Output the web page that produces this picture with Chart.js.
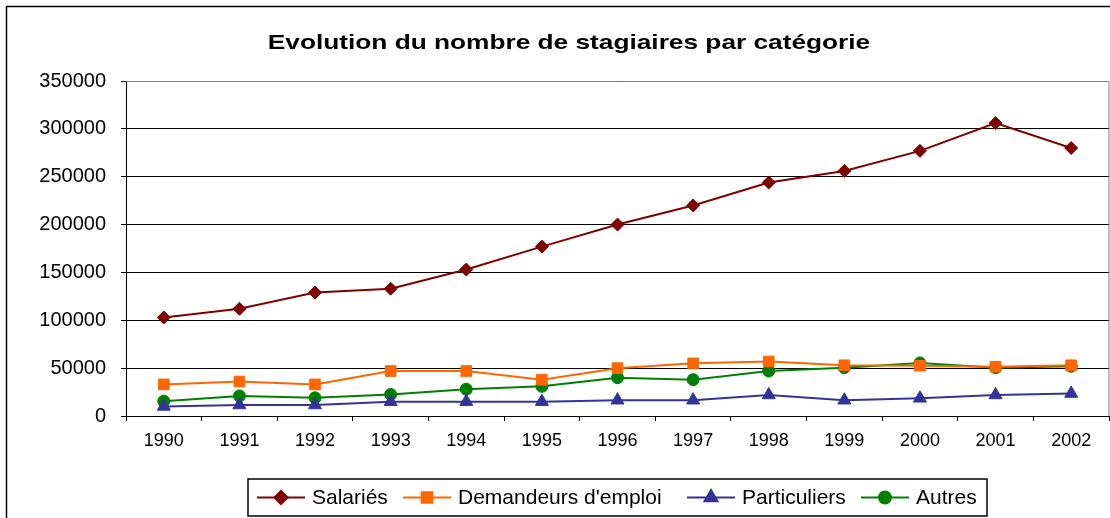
<!DOCTYPE html>
<html>
<head>
<meta charset="utf-8">
<title>Evolution du nombre de stagiaires par catégorie</title>
<script src="https://cdn.jsdelivr.net/npm/chart.js@4.4.1/dist/chart.umd.min.js"></script>
<style>
  html, body { margin: 0; padding: 0; background: #fff; }
  canvas { display: block; }
</style>
</head>
<body>
<canvas id="stagiairesChart" width="1110" height="518"></canvas>
<script>
// Data
let years = ['1990', '1991', '1992', '1993', '1994', '1995', '1996', '1997', '1998', '1999', '2000', '2001', '2002'];
let salaries = [103000, 112000, 129000, 133000, 153000, 177000, 200000, 220000, 244000, 256000, 277000, 306000, 280000];
let demandeurs = [33000, 36000, 33000, 47000, 47000, 38000, 50000, 55000, 57000, 53000, 52500, 51500, 53000];
let particuliers = [10000, 11500, 11500, 15000, 15000, 15000, 16500, 16500, 22000, 16500, 18500, 22000, 23500];
let autres = [15500, 21000, 19000, 22500, 28000, 31000, 40000, 38000, 47000, 50500, 55500, 50500, 52000];
let yTicks = [0, 50000, 100000, 150000, 200000, 250000, 300000, 350000];

let seriesNames = ['Salariés', "Demandeurs d'emploi", 'Particuliers', 'Autres'];
let seriesData = [salaries, demandeurs, particuliers, autres];
let seriesColors = ['#800000', '#FF6600', '#333399', '#008000'];
let markerStyles = ['rectRot', 'rect', 'triangle', 'circle'];
let markerSizes = [6.5, 7.5, 7.5, 6];

let chartTitle = 'Evolution du nombre de stagiaires par catégorie';
let fontFamily = '"Liberation Sans", Arial, Helvetica, sans-serif';

Chart.defaults.font.family = fontFamily;
Chart.defaults.color = '#000';

let stagiairesChart = document.querySelector('#stagiairesChart');

// Datasets
let datasets = [];
for (let i = 0; i < seriesNames.length; i++) {
  datasets.push({
    label: seriesNames[i],
    data: seriesData[i],
    borderColor: seriesColors[i],
    backgroundColor: seriesColors[i],
    borderWidth: 2,
    pointStyle: markerStyles[i],
    pointRadius: markerSizes[i],
    pointHoverRadius: markerSizes[i],
    pointBackgroundColor: seriesColors[i],
    pointBorderColor: seriesColors[i],
    pointBorderWidth: 1,
    tension: 0
  });
}

// Frame, title and boxed legend (Excel look)
let excelFrame = {
  id: 'excelFrame',
  beforeDraw(chart) {
    let ctx = chart.ctx;
    ctx.save();
    ctx.fillStyle = '#fff';
    ctx.fillRect(0, 0, chart.width, chart.height);
    ctx.restore();
  },
  afterDraw(chart) {
    let ctx = chart.ctx;
    let area = chart.chartArea;
    ctx.save();

    // plot area border (top / right)
    ctx.strokeStyle = '#808080';
    ctx.lineWidth = 1;
    ctx.beginPath();
    ctx.moveTo(area.left, Math.round(area.top) + 0.5);
    ctx.lineTo(area.right, Math.round(area.top) + 0.5);
    ctx.lineTo(area.right, area.bottom);
    ctx.stroke();

    // outer chart border
    ctx.strokeStyle = '#000';
    ctx.lineWidth = 1.5;
    ctx.strokeRect(6.5, 6.5, 1130, 530);

    // title, a bit wide like the original
    ctx.font = 'bold 21px ' + fontFamily;
    ctx.fillStyle = '#000';
    ctx.textAlign = 'center';
    ctx.textBaseline = 'alphabetic';
    ctx.translate(569, 49);
    ctx.scale(1.25, 1);
    ctx.fillText(chartTitle, 0, 0);
    ctx.setTransform(1, 0, 0, 1, 0, 0);

    // legend box
    ctx.strokeStyle = '#000';
    ctx.lineWidth = 1.5;
    ctx.strokeRect(248, 479, 739, 37);

    let lineStarts = [257, 403, 687, 861];
    let midY = 497.5;
    ctx.font = '21px ' + fontFamily;
    ctx.textAlign = 'left';
    ctx.textBaseline = 'middle';
    for (let i = 0; i < seriesNames.length; i++) {
      let x0 = lineStarts[i];
      ctx.strokeStyle = seriesColors[i];
      ctx.fillStyle = seriesColors[i];
      ctx.lineWidth = 2;
      ctx.beginPath();
      ctx.moveTo(x0, midY);
      ctx.lineTo(x0 + 48, midY);
      ctx.stroke();
      Chart.helpers.drawPoint(ctx, {
        pointStyle: markerStyles[i],
        radius: markerSizes[i],
        borderWidth: 1,
        rotation: 0
      }, x0 + 24, midY);
      ctx.fillStyle = '#000';
      ctx.fillText(seriesNames[i], x0 + 55, midY + 1);
    }
    ctx.restore();
  }
};

let chart = new Chart(stagiairesChart, {
  type: 'line',
  data: {
    labels: years,
    datasets: datasets
  },
  options: {
    responsive: false,
    animation: false,
    devicePixelRatio: 1,
    layout: {
      autoPadding: false,
      padding: { top: 81, left: 0, right: 1, bottom: 0 }
    },
    plugins: {
      legend: { display: false },
      title: { display: false },
      tooltip: { enabled: false }
    },
    scales: {
      x: {
        offset: true,
        grid: {
          offset: true,
          drawOnChartArea: false,
          drawTicks: true,
          tickLength: 5,
          color: '#000',
          tickColor: '#000'
        },
        border: { color: '#000', width: 1 },
        ticks: {
          font: { size: 18 },
          color: '#000',
          padding: 9,
          maxRotation: 0,
          autoSkip: false
        },
        afterFit(scale) {
          scale.height = 102;
          scale.paddingLeft = 0;
          scale.paddingRight = 0;
        }
      },
      y: {
        min: 0,
        max: 350000,
        afterBuildTicks(scale) {
          scale.ticks = yTicks.map(v => ({ value: v }));
        },
        grid: {
          color: '#000',
          tickColor: '#000',
          tickLength: 5,
          lineWidth: 1
        },
        border: { color: '#000', width: 1 },
        ticks: {
          font: { size: 20 },
          color: '#000',
          padding: 15,
          callback: function (value) {
            return String(value);
          }
        },
        afterFit(scale) {
          scale.width = 126;
        }
      }
    }
  },
  plugins: [excelFrame]
});
</script>
</body>
</html>
